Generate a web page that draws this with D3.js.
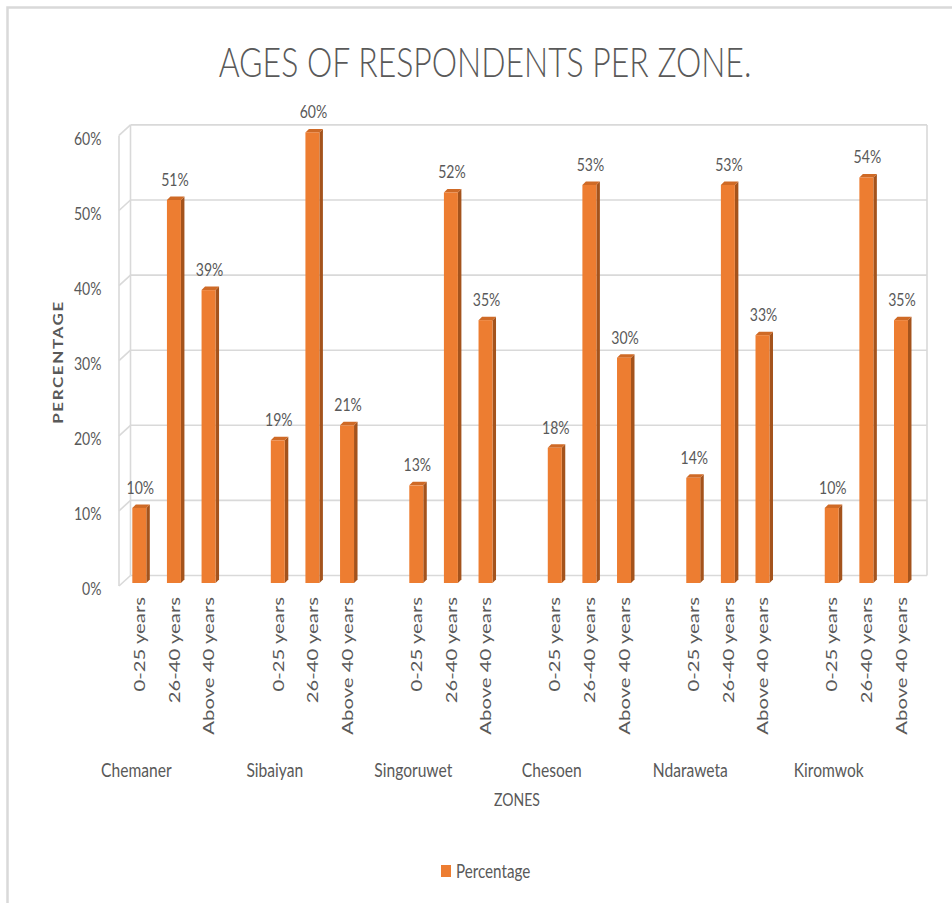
<!DOCTYPE html>
<html>
<head>
<meta charset="utf-8">
<script src="https://cdn.jsdelivr.net/npm/d3@7"></script>
<style>
  html, body { margin: 0; padding: 0; background: #fff; }
  svg { display: block; }
  text { font-family: Lato, "Open Sans", sans-serif; fill: #595959; }
</style>
</head>
<body>
<svg id="chart" width="952" height="903"></svg>
<script>
// Survey data: share of respondents in each age group, per zone
const zones = ["Chemaner", "Sibaiyan", "Singoruwet", "Chesoen", "Ndaraweta", "Kiromwok"];
const ageGroups = ["0-25 years", "26-40 years", "Above 40 years"];
const age0to25 = [10, 19, 13, 18, 14, 10];
const age26to40 = [51, 60, 52, 53, 53, 54];
const above40 = [39, 21, 35, 30, 33, 35];
const yTicks = [0, 10, 20, 30, 40, 50, 60];
const seriesName = "Percentage";

const series = [age0to25, age26to40, above40];
const rows = [];
zones.forEach((z, zi) => ageGroups.forEach((g, gi) => rows.push({ zone: z, group: g, value: series[gi][zi] })));

const svg = d3.select("#chart");
const SX = 0.78;              // horizontal squeeze applied to all text
const DX = 11.5, DY = 10.5;   // depth offset of the back wall
const BD = 3.5;               // depth of each bar
const colors = { front: "#ED7D31", side: "#A4531C", top: "#CF6A26", grid: "#D9D9D9" };

function place(sel, x, y, rot) {
  sel.attr("transform", `translate(${x},${y}) scale(${SX},1)` + (rot ? " rotate(-90)" : ""));
  return sel;
}

// Scales: front edge of the plot box
const y = d3.scaleLinear().domain([0, 60]).range([586, 135.4]);
const x0 = d3.scaleBand().domain(zones).range([122, 918.3]).paddingInner(0.25).paddingOuter(0);
const x1 = d3.scaleBand().domain(ageGroups).range([0, x0.bandwidth()]).paddingInner(0.596).paddingOuter(0.298);
const barX = d => x0(d.zone) + x1(d.group);
const barY = v => y(v) - 3;

// Outer chart frame (top and left edges)
svg.append("path").attr("d", "M7.5,903 L7.5,7.5 L952,7.5")
  .attr("fill", "none").attr("stroke", colors.grid).attr("stroke-width", 2.5);

// Title
place(svg.append("text").attr("text-anchor", "middle").style("font-size", "41px").style("font-weight", 300)
  .text("AGES OF RESPONDENTS PER ZONE."), 485, 77);

// Walls and gridlines
const xL = 119, xR = 915.5;
const grid = svg.append("g").attr("stroke", colors.grid).attr("stroke-width", 1.6).attr("fill", "none");
yTicks.forEach(t => {
  grid.append("line").attr("x1", xL + DX).attr("x2", xR + DX).attr("y1", y(t) - DY).attr("y2", y(t) - DY);
  grid.append("line").attr("x1", xL).attr("x2", xL + DX).attr("y1", y(t)).attr("y2", y(t) - DY);
});
grid.append("line").attr("x1", xL).attr("x2", xL).attr("y1", y(0)).attr("y2", y(60));
grid.append("line").attr("x1", xL + DX).attr("x2", xL + DX).attr("y1", y(0) - DY).attr("y2", y(60) - DY);
grid.append("line").attr("x1", xR + DX).attr("x2", xR + DX).attr("y1", y(0) - DY).attr("y2", y(60) - DY);

// Y axis tick labels
yTicks.forEach(t => {
  place(svg.append("text").attr("text-anchor", "end").attr("dy", "0.36em").style("font-size", "18px")
    .text(t + "%"), 101.5, y(t) + 3);
});

// Bars drawn as simple 3D columns
const w = x1.bandwidth();
const bars = svg.append("g").selectAll("g").data(rows).join("g");
bars.append("path").attr("fill", colors.side).attr("d", d => {
  const x = barX(d), t = barY(d.value), b = barY(0);
  return `M${x + w},${t} L${x + w + BD},${t - BD} L${x + w + BD},${b - BD} L${x + w},${b} Z`;
});
bars.append("path").attr("fill", colors.top).attr("d", d => {
  const x = barX(d), t = barY(d.value);
  return `M${x},${t} L${x + BD},${t - BD} L${x + w + BD},${t - BD} L${x + w},${t} Z`;
});
bars.append("rect").attr("fill", colors.front)
  .attr("x", d => barX(d)).attr("y", d => barY(d.value))
  .attr("width", w).attr("height", d => barY(0) - barY(d.value));

// Value labels
rows.forEach(d => {
  place(svg.append("text").attr("text-anchor", "middle").style("font-size", "18px")
    .text(d.value + "%"), barX(d) + w / 2 + 1, barY(d.value) - 14);
});

// Category labels (rotated) and zone labels
rows.forEach(d => {
  place(svg.append("text").attr("text-anchor", "end").attr("dy", "0.36em").style("font-size", "20.3px")
    .text(d.group), barX(d) + w / 2, 597, true);
});
zones.forEach(z => {
  place(svg.append("text").attr("text-anchor", "middle").style("font-size", "20px")
    .text(z), x0(z) + x1(ageGroups[0]) + w / 2 - 3, 777);
});

// Axis titles
place(svg.append("text").attr("text-anchor", "middle").style("font-size", "18px").text("ZONES"), 517, 806);
place(svg.append("text").attr("text-anchor", "middle").attr("dy", "0.36em").style("font-size", "17px")
  .style("font-weight", 700).style("letter-spacing", "1.6px").text("PERCENTAGE"), 58, 362, true);

// Legend
const legend = svg.append("g");
legend.append("rect").attr("x", 441).attr("y", 865).attr("width", 10).attr("height", 12).attr("fill", colors.front);
place(legend.append("text").attr("text-anchor", "start").style("font-size", "19.5px").text(seriesName), 456, 877.5);
</script>
</body>
</html>
